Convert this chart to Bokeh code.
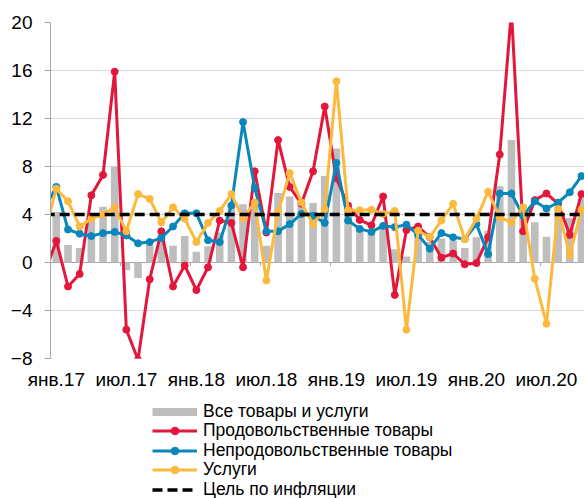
from bokeh.plotting import figure
from bokeh.layouts import column
from bokeh.models import FixedTicker, Range1d, Legend, LegendItem, Span
from bokeh.embed import file_html
from bokeh.resources import INLINE

# ---- data (monthly, % SAAR) ----
# lines start with Dec-2016 (index -1), bars start with Jan-2017 (index 0)
line_x = list(range(-1, 46))
bar_x = list(range(0, 46))

all_items = [4.2, 1.45, 1.2, 3.9, 4.65, 8.0, -0.65, -1.3, 1.45, 2.5, 1.4, 2.2,
             0.9, 1.35, 2.5, 4.9, 4.85, 5.0, 1.4, 5.8, 5.5, 4.9, 4.95, 7.2,
             9.5, 4.3, 2.7, 2.5, 3.1, 1.1, 0.5, 2.6, 1.7, 2.0, 1.8, 1.2,
             2.1, 2.65, 6.35, 10.2, 4.2, 3.35, 2.15, 4.6, 3.7, 5.35]

food = [-0.9,
        1.8, -2.0, -0.95, 5.6, 7.3, 15.9, -5.6, -8.1, -1.4, 2.6, -2.0, -0.25,
        -2.3, -0.4, 3.5, 3.3, -0.4, 7.6, 2.5, 10.2, 6.3, 4.9, 7.6, 13.0,
        7.0, 4.75, 3.55, 3.1, 5.5, -2.7, 2.7, 3.0, 2.1, 0.4, 0.75, -0.15,
        -0.05, 2.1, 9.0, 21.0, 2.6, 5.2, 5.75, 4.9, 2.3, 5.7]

nonfood = [4.5,
           6.3, 2.75, 2.4, 2.2, 2.45, 2.55, 2.25, 1.6, 1.7, 2.05, 3.0, 4.1,
           4.1, 1.85, 1.7, 4.75, 11.7, 6.2, 2.6, 2.6, 3.2, 4.05, 3.9, 3.3,
           8.3, 3.5, 2.8, 2.55, 3.05, 2.95, 3.15, 2.3, 1.15, 2.45, 2.1, 1.95,
           3.2, 0.7, 5.75, 5.75, 3.9, 5.1, 4.5, 5.0, 5.85, 7.2]

services = [2.5,
            6.15, 5.1, 3.0, 3.65, 4.0, 4.6, 2.6, 5.7, 5.3, 3.35, 4.6, 3.65,
            1.7, 3.3, 4.3, 5.7, 3.7, 5.0, -1.5, 4.2, 7.45, 5.0, 3.2, 4.45,
            15.1, 4.35, 4.35, 4.4, 4.05, 4.3, -5.6, 2.65, 2.1, 3.5, 4.9, 1.95,
            3.65, 5.9, 3.75, 3.35, 4.6, -1.35, -5.1, 4.45, 0.6, 4.4]

INFLATION_TARGET = 4.0
target_x = list(range(-1, 47))
target_y = [INFLATION_TARGET for _ in target_x]

tick_idx = [0, 6, 12, 18, 24, 30, 36, 42]
tick_labels = ["янв.17", "июл.17", "янв.18", "июл.18",
               "янв.19", "июл.19", "янв.20", "июл.20"]
y_ticks = [-8, -4, 0, 4, 8, 12, 16, 20]

series_names = ["Все товары и услуги", "Продовольственные товары",
                "Непродовольственные товары", "Услуги", "Цель по инфляции"]

# ---- styles ----
FONT = "Liberation Sans"
RED = "#E3163C"
BLUE = "#0A87BA"
YELLOW = "#FDB93E"
BAR = "#BEBEBE"
AXIS = "#A6A6A6"
GRID = "#D9D9D9"
NAN = float("nan")

p = figure(frame_width=534, frame_height=336, x_range=Range1d(-0.5, 45.26),
           y_range=Range1d(-8, 20), output_backend="svg",
           toolbar_location=None, min_border_left=50, min_border_right=0,
           min_border_top=22, min_border_bottom=0)
p.outline_line_color = None
p.background_fill_color = "white"
p.border_fill_color = "white"

# y axis
p.yaxis.ticker = FixedTicker(ticks=y_ticks)
p.yaxis.axis_line_color = AXIS
p.yaxis.major_tick_line_color = AXIS
p.yaxis.major_tick_out = 6
p.yaxis.major_tick_in = 0
p.yaxis.minor_tick_line_color = None
p.yaxis.major_label_standoff = 12
p.yaxis.major_label_text_font = FONT
p.yaxis.major_label_text_font_size = "19px"
p.yaxis.major_label_text_color = "#000000"

# x axis (labels only, at the bottom)
p.xaxis.ticker = FixedTicker(ticks=tick_idx)
p.xaxis.major_label_overrides = {i: l for i, l in zip(tick_idx, tick_labels)}
p.xaxis.axis_line_color = None
p.xaxis.major_tick_line_color = None
p.xaxis.minor_tick_line_color = None
p.xaxis.major_tick_out = 0
p.xaxis.major_tick_in = 0
p.xaxis.major_label_standoff = 10
p.xaxis.major_label_text_font = FONT
p.xaxis.major_label_text_font_size = "19px"
p.xaxis.major_label_text_color = "#000000"

p.xgrid.grid_line_color = None
p.ygrid.ticker = FixedTicker(ticks=y_ticks)
p.ygrid.grid_line_color = GRID
p.ygrid.grid_line_width = 1

# zero line with small tick marks at half-year boundaries
zero = Span(location=0, dimension="width", line_color=AXIS, line_width=1,
            level="underlay")
p.add_layout(zero)
bounds = [i - 0.5 for i in tick_idx]
p.segment(x0=bounds, y0=[0] * len(bounds), x1=bounds,
          y1=[-0.3] * len(bounds), line_color=AXIS, line_width=1)

# bars
p.vbar(x=bar_x, top=all_items, bottom=0, width=0.65,
       fill_color=BAR, line_color=None)

def series(fig, x, y, color):
    fig.line(x, y, line_color=color, line_width=3, line_join="round")
    fig.scatter(x, y, size=7, fill_color=color, line_color=color)

series(p, line_x, food, RED)
series(p, line_x, nonfood, BLUE)
series(p, line_x, services, YELLOW)

p.line(target_x, target_y, line_color="black", line_width=3.5,
       line_dash="10 5")

# ---- legend (separate strip below the chart, one row per entry) ----
lg = figure(width=584, height=108, output_backend="svg",
            toolbar_location=None, x_axis_location=None, y_axis_location=None,
            min_border=0, x_range=Range1d(0, 1), y_range=Range1d(0, 1))
lg.outline_line_color = None
lg.xgrid.grid_line_color = None
lg.ygrid.grid_line_color = None

px, py = [NAN], [NAN]
leg_bar = [lg.line(px, py, line_color=BAR, line_width=8)]
leg_r = [lg.line(px, py, line_color=RED, line_width=3),
         lg.scatter(px, py, fill_color=RED, line_color=RED)]
leg_b = [lg.line(px, py, line_color=BLUE, line_width=3),
         lg.scatter(px, py, fill_color=BLUE, line_color=BLUE)]
leg_y = [lg.line(px, py, line_color=YELLOW, line_width=3),
         lg.scatter(px, py, fill_color=YELLOW, line_color=YELLOW)]
leg_t = [lg.line(px, py, line_color="black", line_width=3.5,
                 line_dash="10 5")]

ROW_PITCH = 19.6
entries = [leg_bar, leg_r, leg_b, leg_y, leg_t]
for k, (name, rends) in enumerate(zip(series_names, entries)):
    lgd = Legend(items=[LegendItem(label=name, renderers=rends)])
    lgd.location = (102, ROW_PITCH * (len(entries) - 1 - k))
    lgd.glyph_width = 45
    lgd.glyph_height = 19
    lgd.label_standoff = 6
    lgd.padding = 0
    lgd.margin = 0
    lgd.border_line_color = None
    lgd.background_fill_alpha = 0
    lgd.label_text_font = FONT
    lgd.label_text_font_size = "17.5px"
    lgd.label_text_color = "#000000"
    lg.add_layout(lgd)

layout = column(p, lg, spacing=0)
open("out.html", "w").write(file_html(layout, INLINE))
